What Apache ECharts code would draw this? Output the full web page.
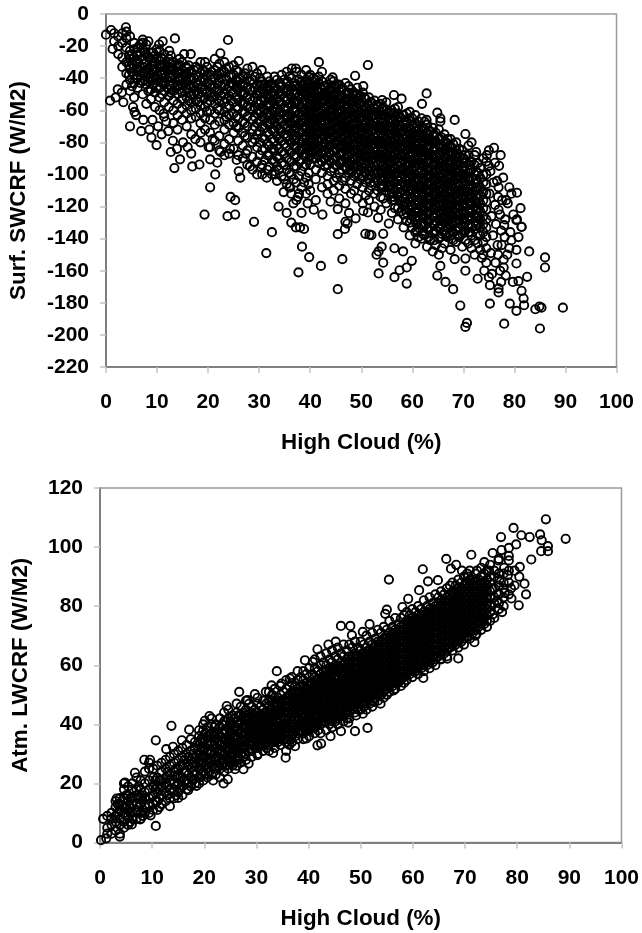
<!DOCTYPE html>
<html><head><meta charset="utf-8">
<script src="https://cdn.jsdelivr.net/npm/echarts@6/dist/echarts.min.js"></script>
<style>html,body{margin:0;padding:0;background:#fff}#c{width:642px;height:933px}</style></head>
<body><div id="c"></div>
<script>
const xTicks=[0,10,20,30,40,50,60,70,80,90,100];
const xName='High Cloud (%)';
const swName='Surf. SWCRF (W/M2)';
const lwName='Atm. LWCRF (W/M2)';
// each pair: [high cloud, surf SWCRF]
const swSparse=[[0,-12.9],[1,-10],[3.9,-8.3],[1.3,-21.8],[13.5,-15.2],[23.9,-16.2],[0.8,-54],[4.7,-70],[6.9,-73],[8.9,-77],[9.9,-81.7],[12.7,-86],[14.5,-90.6],[13.4,-96],[16.9,-95],[18.3,-93.8],[20.4,-90.6],[21.8,-92.7],[21.4,-100],[20.4,-108],[19.3,-125],[24.4,-114],[25.3,-116],[23.8,-126],[25.3,-125],[29,-129.5],[26,-98],[26.3,-102],[29.6,-100],[15.3,-25],[22.4,-24.5],[16.6,-25],[12.4,-23],[11.1,-17],[10.4,-19],[26,-29.3],[30.5,-35],[41.7,-30],[36.4,-34],[37.2,-34],
[32.5,-136],[31.4,-149],[37.7,-161],[38.4,-145],[39.8,-151.5],[42.1,-157],[38.8,-134],[38,-133],[37.2,-133],[36.3,-130],
[45.4,-171.5],[46.3,-152.8],[45.4,-137.2],[46.8,-134],[47.3,-130.6],[50.8,-137],[52,-137.8],[51.6,-137.5],[54.3,-137],[54,-145],[53.4,-148],[53,-150],[54.3,-155],[53.4,-161.7],[56.5,-146],[58.2,-148],[59.9,-153.8],[58.9,-158],[57.5,-159.7],[56.5,-164],[58.9,-168],[64.9,-163],[65.5,-157],[66.5,-167],[68,-171.5],[68.3,-152.8],[69.4,-181.7],[70.7,-192.5],[70.4,-195],[75.2,-180.5],[78,-193],[79.1,-180.5],[80.4,-185],[81.9,-181.5],[81.8,-177.3],[81.4,-172.5],[84.1,-184],[84.9,-182.3],[85.3,-183],[85,-196],[89.5,-183],[86,-151.7],[86,-158],[82.9,-148],[82.5,-163.8],[80.8,-166.5],[79.7,-167],[80.4,-147],[79,-146],[80.8,-139],[79.2,-136],[80.4,-155.5],[81.4,-132.7],[80.4,-128.5],[78,-131.6],[76.9,-173.5],[76.9,-171],[77.4,-167],[75.2,-169],[72.8,-165],[70.4,-160],[70.4,-152.4],
[51.3,-31.8],[48.8,-38.5],[44.4,-39.5],[56.4,-50.5],[57.9,-52.8],[62.8,-49.5],[64.9,-61.5],[65.5,-65],[65.5,-67],[68.3,-66],[62.8,-66],[61.9,-56],[54.1,-53.6],[50.4,-45],[70.4,-74.8],[71.6,-80],[72.5,-86],[75,-85],[76,-83.4],[77.3,-88],[77,-94.6],[76.2,-92.7],[75,-94.6],[79,-108],[80.5,-111.4],[78.4,-116],[76.8,-114],[80.5,-128],[81.4,-132.6],[44,-117],[45.4,-121.6],[47.6,-124],[48.9,-127.4],[42.4,-125],[50.4,-122.7],[51.3,-123.7],[53.3,-127],[55.4,-130.6],[46.9,-129.5],
[2.3,-47],[1.9,-52],[3.4,-55],[3.1,-49],[5.3,-58],[5.6,-61],[5.9,-63],[7.3,-66],[8.5,-72],[9.1,-66],[10.2,-70],[10.9,-75],[11.3,-62],[11.8,-67],[12.2,-73],[13.1,-79],[13.9,-84],[15.1,-80],[16,-83],[16.7,-87],[17.5,-78],[18.6,-74],[20.1,-83],[20.9,-78],[22.4,-86],[23.2,-88],[24.3,-84],[25.6,-91],[27.4,-87],[28.2,-95],[30.4,-96],[31.5,-102],[33.2,-100],[34.8,-111],[36.1,-108],[37.6,-114],[39.5,-118],[40.7,-122],[33.8,-120],[35.4,-124],[36.7,-118],
[74.1,-160],[73.6,-152],[75.6,-162],[77.9,-158],[78.6,-150],[79.4,-141],[77.5,-144],[79.8,-125],[78.7,-118],[81.2,-121],[77.2,-125],[78.2,-128],[76.6,-104],[79.4,-112],[77.8,-102],[74.6,-88],[73.9,-90]];
// each row: high cloud first, then the surf SWCRF values seen at that high cloud
const swLeft=[[1.6,-12,-17],[2.4,-14,-20,-25],[3.2,-12,-18,-27,-33],[4,-11,-15,-21,-30,-37,-44],[4.7,-14,-23,-28,-34,-41,-48],[5.5,-18,-22,-27,-32,-38,-43,-52],[6.2,-21,-26,-30,-35,-40,-46],[7.2,-16,-18,-22,-28,-33,-37,-42,-50],[7.9,-19,-25,-30,-35,-39,-44,-56],[8.8,-24,-28,-32,-37,-41,-47,-53],[9.6,-26,-30,-34,-39,-43,-49,-58],[10.5,-23,-29,-33,-36,-41,-46,-52,-60],[11.4,-25,-31,-35,-40,-44,-48,-55,-64],[12.3,-28,-33,-37,-42,-47,-51,-58],[13.2,-30,-34,-38,-43,-48,-54,-60,-68],[14,-33,-37,-41,-45,-50,-56,-63,-72],[14.9,-30,-35,-39,-44,-49,-53,-59,-66],[15.8,-34,-38,-42,-47,-52,-57,-62,-70],[16.7,-36,-40,-45,-50,-55,-60,-65,-75],[17.6,-33,-38,-43,-48,-54,-59,-64],[18.5,-30,-37,-42,-46,-52,-57,-62,-68,-80],[19.4,-30,-36,-41,-47,-52,-58,-65,-72],[20.4,-38,-44,-49,-54,-60,-66,-74,-83],[21.3,-28,-35,-40,-46,-51,-56,-62,-69,-79],[22.2,-31,-37,-42,-48,-54,-60,-67,-76,-85],[23.2,-30,-36,-44,-50,-55,-61,-66,-72,-81],[24.1,-33,-39,-45,-51,-57,-63,-69,-78,-87],[25,-32,-38,-44,-49,-55,-62,-68,-74,-84],[25.9,-36,-42,-47,-53,-59,-65,-71,-79,-88],[26.8,-39,-45,-50,-56,-61,-67,-74,-82,-90],[27.7,-34,-40,-46,-52,-58,-64,-70,-77,-85,-94],[28.7,-33,-41,-48,-54,-60,-66,-72,-80,-89,-97],[29.6,-37,-44,-50,-55,-62,-68,-75,-83,-92],[30.6,-42,-47,-52,-58,-64,-70,-77,-85,-94,-100],[31.6,-39,-46,-51,-57,-62,-68,-74,-81,-88,-97],[32.5,-44,-49,-54,-60,-66,-72,-78,-84,-91,-100],[33.5,-41,-47,-53,-59,-64,-70,-76,-82,-89,-95,-104],[34.4,-38,-45,-50,-56,-62,-67,-73,-79,-86,-93,-101],[35.4,-36,-43,-48,-54,-60,-65,-71,-77,-83,-90,-97,-106],[36.3,-40,-46,-52,-57,-63,-68,-74,-80,-86,-92,-100,-112],[37.3,-36,-44,-49,-55,-60,-66,-71,-77,-83,-89,-95,-105,-116],[38.3,-38,-42,-47,-52,-58,-63,-68,-74,-80,-85,-91,-98,-108,-124],[39.2,-35,-41,-46,-50,-55,-61,-66,-71,-76,-82,-88,-94,-102,-112]];
const swLeftFill=[[5.1,-25,-31,-36,-45],[6.7,-19,-24,-33,-38,-43],[8.3,-17,-27,-34,-42,-48],[9.9,-22,-28,-36,-41,-46],[11,-28,-33,-38,-43,-50],[12.7,-26,-31,-35,-40,-45,-49],[14.4,-28,-32,-36,-42,-47],[16.2,-32,-36,-40,-44,-49,-54],[18,-34,-39,-44,-50,-55],[19.8,-33,-38,-43,-49,-55,-61],[21.8,-33,-38,-43,-48,-53,-59],[23.6,-34,-41,-47,-53,-58,-64],[25.5,-35,-41,-46,-52,-58,-64,-70],[27.2,-37,-43,-49,-55,-61,-68,-76],[29.1,-39,-46,-52,-58,-64,-70,-78],[30.1,-40,-45,-50,-56,-61,-67,-73,-80,-88],[31.1,-44,-49,-54,-60,-65,-71,-78,-84,-91],[32,-42,-47,-52,-57,-63,-69,-75,-82,-88,-95],[33,-39,-45,-50,-56,-61,-67,-73,-79,-85,-92,-98],[33.9,-43,-49,-55,-61,-66,-72,-78,-84,-90,-97],[34.9,-41,-47,-52,-58,-63,-69,-75,-81,-87,-94,-103],[35.9,-39,-45,-50,-56,-62,-68,-73,-79,-85,-91,-99,-108],[36.8,-43,-48,-54,-59,-65,-70,-76,-82,-88,-95,-103],[37.8,-41,-46,-51,-56,-62,-68,-73,-79,-85,-92,-101,-112],[38.8,-44,-49,-54,-60,-65,-71,-77,-83,-88,-95,-105],[39.7,-39,-44,-49,-53,-58,-63,-68,-73,-79,-85,-91,-99,-106]];
const swCore=[[40,-38,-43,-47,-52,-56,-60,-65,-69,-74,-78,-83,-88,-94,-110],[41.1,-41,-45,-50,-54,-58,-63,-67,-71,-76,-81,-85,-90,-97,-103,-116],[42.3,-36,-42,-47,-51,-55,-60,-64,-69,-73,-78,-83,-87,-92,-99,-108],[43.4,-44,-49,-53,-57,-62,-66,-71,-75,-79,-84,-89,-94,-101,-106,-112],[44.6,-42,-46,-51,-55,-59,-64,-68,-72,-77,-81,-86,-91,-96,-104,-110],[45.7,-44,-48,-53,-57,-62,-66,-70,-74,-79,-83,-88,-93,-99,-107,-115],[46.9,-43,-50,-54,-59,-63,-68,-72,-76,-81,-85,-90,-95,-102,-109,-118],[48,-47,-52,-56,-61,-65,-70,-74,-78,-83,-87,-92,-97,-104,-112],[49.2,-46,-50,-54,-58,-63,-67,-72,-76,-80,-85,-89,-94,-99,-106,-115],[50.3,-49,-55,-60,-64,-69,-73,-78,-82,-87,-91,-96,-101,-108,-118],[51.5,-52,-57,-62,-66,-71,-75,-80,-84,-89,-93,-98,-103,-110,-116],[52.6,-54,-59,-63,-68,-72,-77,-81,-86,-90,-95,-100,-105,-112,-120],[53.8,-56,-61,-65,-70,-74,-79,-83,-88,-92,-97,-102,-107,-114,-122],[54.9,-55,-60,-64,-69,-73,-78,-82,-87,-91,-96,-100,-105,-110,-118],[56,-60,-66,-71,-75,-80,-84,-89,-93,-98,-102,-107,-112,-116,-124],[57.2,-58,-62,-67,-72,-76,-81,-85,-90,-95,-99,-104,-109,-114,-121,-128],[58.3,-63,-69,-73,-78,-82,-87,-91,-96,-100,-105,-110,-115,-119,-125,-133],[59.5,-61,-65,-71,-75,-80,-84,-89,-94,-98,-103,-107,-112,-117,-122,-130,-138],[60.6,-63,-68,-73,-77,-82,-86,-91,-95,-100,-105,-109,-114,-119,-124,-128,-136,-143],[61.8,-65,-70,-75,-79,-84,-88,-93,-98,-102,-107,-111,-116,-120,-125,-131,-140],[62.9,-69,-74,-78,-83,-87,-92,-96,-101,-106,-110,-115,-119,-124,-129,-134,-145],[64,-71,-76,-80,-85,-89,-94,-99,-103,-108,-112,-117,-121,-126,-131,-137,-148],[65.2,-72,-78,-82,-87,-92,-96,-101,-105,-110,-114,-119,-123,-128,-133,-140,-150],[66.3,-75,-80,-85,-89,-94,-98,-103,-107,-112,-116,-121,-126,-130,-135,-143],[67.5,-78,-83,-87,-91,-96,-101,-105,-110,-114,-119,-123,-128,-133,-138,-147],[68.6,-80,-85,-90,-94,-99,-103,-108,-112,-117,-121,-126,-130,-135,-142],[69.8,-85,-90,-96,-100,-105,-110,-114,-119,-123,-128,-132,-137,-145],[71,-82,-88,-94,-99,-104,-108,-113,-117,-122,-126,-131,-136,-143],[72.2,-88,-94,-100,-105,-110,-116,-120,-125,-129,-134,-141,-150],[73.3,-96,-102,-108,-113,-118,-123,-128,-133,-138,-147],[74.5,-92,-100,-106,-112,-117,-122,-128,-133,-139,-146,-155]];
const swCoreFill=[[40.6,-40,-45,-49,-54,-58,-62,-67,-71,-76,-80,-85,-90],[41.7,-39,-43,-48,-52,-57,-61,-65,-70,-74,-79,-83,-88,-93],[42.9,-45,-49,-53,-58,-62,-67,-71,-75,-81,-85,-90,-95],[44,-41,-47,-51,-55,-60,-64,-69,-73,-77,-82,-87,-92,-98],[45.2,-44,-49,-53,-57,-61,-66,-70,-75,-79,-84,-89,-94,-102],[46.3,-46,-51,-55,-60,-64,-68,-72,-77,-81,-86,-91,-97,-104],[47.5,-45,-49,-54,-58,-62,-66,-70,-75,-79,-83,-88,-93,-99],[48.6,-49,-54,-59,-63,-68,-72,-76,-81,-85,-90,-95,-101,-110],[49.8,-51,-56,-61,-65,-70,-74,-78,-83,-87,-92,-97,-103],[50.9,-53,-58,-62,-67,-71,-76,-80,-85,-89,-94,-99,-105,-113],[52,-55,-60,-64,-69,-73,-78,-82,-87,-91,-96,-101,-107],[53.2,-57,-62,-67,-71,-76,-80,-85,-89,-94,-99,-104,-110],[54.3,-58,-63,-67,-72,-76,-81,-85,-90,-94,-99,-103,-108,-115],[55.5,-61,-66,-70,-75,-79,-84,-88,-93,-97,-102,-107,-112],[56.6,-59,-64,-69,-73,-78,-82,-87,-91,-96,-100,-105,-110,-116,-121],[57.8,-65,-70,-74,-79,-84,-88,-93,-97,-102,-107,-111,-117,-123],[58.9,-62,-67,-71,-76,-80,-85,-90,-94,-99,-103,-108,-113,-118,-124,-129],[60,-65,-69,-74,-79,-83,-88,-92,-97,-101,-106,-110,-115,-120,-126,-133],[61.2,-67,-72,-76,-81,-85,-90,-94,-99,-103,-108,-112,-117,-122,-127,-133,-139],[62.4,-67,-72,-77,-81,-86,-90,-95,-99,-104,-108,-113,-117,-122,-127,-132,-138],[63.5,-73,-78,-82,-87,-91,-96,-101,-105,-110,-114,-119,-123,-128,-133,-141],[64.6,-74,-79,-83,-88,-92,-97,-101,-106,-110,-115,-119,-124,-129,-135,-144],[65.8,-77,-82,-86,-91,-95,-100,-104,-109,-113,-118,-122,-127,-131,-137,-146],[66.9,-78,-83,-87,-92,-96,-101,-106,-110,-115,-119,-124,-128,-133,-139],[68,-81,-86,-90,-95,-99,-104,-108,-113,-117,-122,-126,-131,-136,-141],[69.2,-84,-89,-93,-98,-102,-107,-111,-116,-120,-125,-129,-134,-139],[70.4,-88,-93,-98,-102,-107,-111,-116,-120,-125,-130,-135,-141],[71.6,-92,-97,-102,-107,-111,-115,-119,-124,-128,-133,-138,-146],[72.8,-93,-99,-105,-110,-115,-121,-126,-131,-137,-143],[73.9,-100,-105,-111,-116,-121,-126,-131,-136,-142,-150]];
const swDense=[[4.5,-26,-32,-38],[6,-24,-29,-34,-40],[7.6,-24,-31,-36,-41],[9.2,-24,-30,-35,-40,-44],[10.8,-27,-32,-37,-42],[12.4,-30,-35,-39,-44],[14.1,-31,-36,-40,-44],[15.7,-33,-37,-41,-46],[17.2,-35,-40,-45,-50],[18.9,-35,-40,-45,-49],[20.7,-36,-41,-46,-52],[22.6,-36,-40,-45,-51],[24.5,-38,-43,-48,-54],[26.3,-40,-44,-49,-55],[28.2,-42,-47,-53,-59],[30.3,-44,-49,-54,-60,-66],[32.2,-45,-50,-56,-62,-68],[34.1,-44,-50,-55,-61,-66,-72],[35.6,-42,-47,-53,-58,-64,-70,-76],[37,-45,-50,-55,-61,-67,-73,-79],[38.5,-44,-50,-55,-61,-66,-72,-78,-84],[39.9,-42,-46,-51,-56,-61,-67,-72,-77,-82],
[40.3,-47,-51,-56,-60,-65,-70,-75,-80,-86],[41.4,-47,-52,-56,-60,-65,-69,-74,-78,-83,-88],[42.6,-45,-50,-54,-59,-63,-67,-72,-76,-81,-86,-90],[43.7,-47,-51,-55,-60,-64,-68,-73,-77,-82,-86,-91],[44.9,-45,-50,-54,-58,-63,-67,-71,-76,-80,-84,-89,-94],[46,-47,-52,-56,-61,-65,-69,-73,-78,-82,-87,-92],[47.2,-49,-53,-57,-61,-66,-70,-74,-79,-83,-87,-92,-96],[48.3,-50,-54,-59,-63,-68,-72,-76,-81,-85,-90,-94,-98],[49.5,-52,-56,-60,-65,-69,-73,-78,-82,-86,-91,-95,-100],[50.6,-52,-57,-62,-66,-71,-75,-80,-84,-89,-93,-98],[51.8,-55,-59,-64,-68,-73,-77,-82,-86,-91,-95,-100,-105],[52.9,-57,-61,-65,-70,-74,-79,-83,-88,-92,-97,-102],[54,-59,-63,-68,-72,-77,-81,-86,-90,-95,-99,-104,-108],[55.2,-62,-67,-71,-76,-80,-85,-89,-94,-98,-103,-108],[56.3,-62,-67,-72,-77,-82,-86,-91,-95,-100,-104,-109,-114],[57.5,-64,-69,-74,-78,-83,-87,-92,-97,-101,-106,-111,-116],[58.6,-66,-71,-75,-80,-84,-89,-93,-98,-102,-107,-112,-117,-122],[59.8,-67,-72,-77,-82,-86,-91,-96,-100,-105,-109,-114,-119,-124,-128],[60.9,-70,-75,-79,-84,-88,-93,-97,-102,-107,-111,-116,-121,-126,-131,-135],[62.1,-72,-77,-81,-86,-90,-95,-100,-104,-109,-113,-118,-122,-127,-132,-137],[63.2,-73,-78,-83,-87,-92,-97,-101,-106,-110,-115,-119,-124,-129,-134,-139],[64.3,-75,-80,-85,-90,-94,-99,-104,-108,-113,-117,-122,-126,-131,-136,-141],[65.5,-78,-83,-88,-93,-97,-102,-106,-111,-115,-120,-124,-129,-134,-139],[66.6,-80,-85,-90,-95,-99,-104,-108,-113,-118,-122,-127,-132,-137],[67.7,-83,-88,-93,-97,-102,-106,-111,-115,-120,-125,-130,-135,-140],[68.9,-87,-92,-96,-101,-105,-110,-114,-119,-124,-128,-133,-138],[70.1,-90,-95,-100,-104,-109,-113,-118,-123,-127,-132,-136],[71.3,-94,-99,-104,-109,-113,-118,-122,-127,-131,-136],[72.5,-98,-103,-108,-113,-118,-122,-127,-132]];
const swRightScatter=[[75.3,-98],[75.9,-105],[75.1,-112],[76.2,-119],[75.5,-126],[76.4,-131],[75.8,-138],[76.7,-144],[75.4,-149],[76.3,-155],[77.2,-160],[75,-164],[76.9,-108],[77.6,-116],[76.9,-122],[77.4,-135],[78.1,-139],[76.8,-150],[77.9,-153],[78.3,-163]];
// each pair: [high cloud, atm LWCRF]
const lwSparse=[[0.2,0.8],[1.2,1.4],[0.6,8],[3.8,2],[10.7,5.6],[13.4,12.3],[10.7,34.6],[13.7,39.5],[17.1,38.2],[12.7,31.6],[8.5,28],[9.6,28],[15.7,34.6],[14,32.4],[6.7,23.6],[4.8,20.3],[3.2,14.9],[24.3,46.2],[21,42.8],[20.1,41.2],[27.5,24.8],[28.5,26.7],[23.7,20],[24.5,21.4],[21.7,21],[18.5,19.2],[16.9,17.7],[15,15.1],[6.1,6.1],[7.7,7.8],[9.7,9.2],[25.9,24.8],[30.2,29.6],[33.2,30.3],[35.6,28.7],[37.4,32.6],[41.7,32.9],[39.6,35.2],
[33.9,58],[26.7,51],[29.7,50.2],[32.9,53.2],[28.3,48.2],[39.3,61.7],[41.7,65.4],[40.8,61.1],[36.4,55.5],[34.8,53.8],[31.8,51],
[89.3,102.8],[85.5,109.4],[79.3,106.5],[76.9,103.4],[80.8,104],[82.4,103.4],[84.4,104.3],[84.7,102.3],[85.9,100.3],[84.6,98.6],[85.9,98.6],[82.7,95.8],[81.4,87.6],[81.7,84],[80.3,80.3],[80.5,93.3],[79.5,87],[78.4,95.5],[79.8,100.9],[78.4,99.7],[77,99],[75.3,98],[73.7,94.9],[71.2,97.4],[66.4,96],[61.9,92.5],[55.4,89],[67.3,92.7],[68.3,94],[61.2,85.4],[59.1,82.5],[62.9,88.4],[64.8,88.8],[55,78.8],[54.7,77.4],[46.2,73.3],[48,73.3],[48.3,70.2],[45.2,68],[43.8,67],[51.7,73.9],[50.4,71.3],[58,79.7],[71.8,67.8],[68.7,62.3],[66.6,62.2],[65.4,62.2],[62,55.7],[60.6,58.2],[56.3,51.5],[54.6,52],[57,54.3],[70.5,69.6],[72.2,70.7],[77.1,78],[75.3,77.2],[78.9,82.6],
[51.3,38.8],[48.9,37.7],[46.2,37.7],[44.2,36],[47.6,40.6],[50.4,43.6],[49.1,43],[53.8,47],[52.6,47.6],[45.3,41.9],[42.4,33.5],[79.5,92],[80.4,90],[78.2,90.5],[77.5,93],[76.4,95.5],[74.6,92],[73.5,90],[76.6,89],[75.2,86],[77.6,84.5],[76.2,82],[78.8,86],[72.3,92],[70.6,90],[69.4,92]];
// each row: high cloud first, then the atm LWCRF values seen at that high cloud
const lwLeft=[[1.4,3,5,9],[2.2,3,6,8,10],[3,4,7,9,12,14],[3.8,3,6,8,11,13,15],[4.6,5,7,10,12,15,18,20],[5.4,6,9,11,14,16,19],[6.2,8,10,13,15,18,20],[7,8,11,13,16,18,22],[7.8,8,10,13,15,18,21],[8.6,10,12,15,17,20,24],[9.4,10,13,15,18,21,25,27],[10.2,11,13,16,19,22,25],[11,11,14,17,19,22,26],[11.8,13,16,19,21,24,27],[12.6,14,17,20,22,25,28],[13.4,15,18,21,23,26,29],[14.2,15,18,20,24,27,30],[15,17,20,23,25,28,31],[15.8,16,19,22,26,29,32],[16.6,18,21,24,27,30,33],[17.4,19,22,25,28,31,35],[18.2,20,23,26,29,32,34],[19,20,22,25,27,30,33,36,38],[19.8,21,24,27,29,32,35,38,40],[20.6,22,25,28,31,33,36,39],[21.4,23,26,28,31,34,37,40,42],[22.2,23,25,29,32,35,37,40],[23,22,25,27,30,33,36,39,42],[23.8,24,27,30,33,35,38,41,44],[24.6,25,28,31,34,36,39,42,45],[25.4,26,29,32,34,37,40,43],[26.2,26,28,31,33,36,39,41,44,47],[27,27,30,32,35,37,40,43,46]];
const lwLeftFill=[[3.4,10,13],[5,9,12,16],[7.4,12,15,19],[10.6,14,18,21],[13,16,19,24],[15.4,18,22,26],[16.2,21,24,28],[17.8,21,24,27,30],[19.4,23,26,29,32,35],[21,24,27,30,33,36],[22.6,26,29,31,34,37],[24.2,26,29,32,35,38,41],[25,28,30,33,36,39,41],[25.8,27,30,33,36,38,42],[26.6,28,31,34,37,40,43],[27.5,29,32,34,36,39,42,44]];
const lwCore=[[28,28,30,33,35,37,39,41,43,45,48],[29.1,29,31,34,36,38,40,42,44,46],[30.2,30,32,34,36,38,40,42,44,47,49],[31.3,31,33,35,37,39,41,43,45,48],[32.4,31,33,36,38,40,42,44,46,48,51],[33.5,32,34,36,38,40,43,45,47,49,52],[34.6,33,35,37,39,42,44,46,48,50,53],[35.7,31,34,36,38,40,43,45,47,49,52,55],[36.8,34,36,39,41,43,45,47,49,51,54,56],[37.9,35,37,39,41,44,46,48,50,52,55,58],[39,35,37,40,42,44,47,49,51,53,55,58],[40.1,36,38,40,43,45,47,49,51,53,56,59],[41.2,37,39,41,43,46,48,50,52,54,56,59,62],[42.3,37,40,42,44,46,49,51,53,55,57,60,63],[43.4,38,41,43,45,47,49,52,54,56,58,60,64],[44.5,39,41,44,46,48,50,52,54,57,59,61,65],[45.6,40,42,44,47,49,51,53,55,58,60,62,66],[46.7,41,43,45,47,50,52,54,56,58,60,63,67],[47.8,42,44,46,48,50,53,55,57,59,61,63,67],[48.9,44,46,48,50,52,54,56,58,60,62,64,68],[50,45,47,49,51,53,55,57,59,61,63,65,68],[51.1,45,47,50,52,54,56,58,60,62,64,66,70],[52.2,46,48,50,53,55,57,59,61,63,65,67,71],[53.3,48,50,52,54,56,58,60,62,64,66,68,72],[54.4,49,51,53,55,57,59,61,63,65,67,69,73],[55.5,51,53,55,57,59,61,63,65,67,69,71,75],[56.6,52,54,56,58,60,62,64,66,68,70,72,76],[57.7,53,55,57,59,61,63,65,67,69,71,73,76],[58.8,55,57,59,61,63,65,67,69,71,73,75,78],[59.9,56,58,60,62,64,66,68,70,72,74,76,79],[61,57,59,61,63,65,67,69,71,73,75,77,80],[62.1,58,60,62,64,66,68,70,72,74,76,78,82],[63.2,59,61,63,65,67,69,71,73,75,77,79,83],[64.3,60,62,64,66,68,70,72,74,76,78,80,84],[65.4,62,64,66,68,70,72,74,76,78,80,82,85],[66.5,63,65,67,69,71,73,75,77,79,81,83,86],[67.6,65,67,69,71,73,75,77,79,81,83,85,88],[68.7,66,68,70,72,74,76,78,80,82,84,86,89],[69.8,67,69,71,73,75,77,79,81,83,85,87,90],[70.9,69,71,73,75,77,79,81,83,85,87,89,92],[72,70,72,74,76,78,80,82,84,86,88,91],[73.1,72,74,76,78,80,82,84,86,88,90,93],[74.2,73,75,77,79,81,83,85,87,89,92]];
const lwCoreFill=[[28.6,31,34,36,38,40,42,44,47],[29.7,32,35,37,39,41,43,45],[30.8,33,35,37,39,41,43,46],[31.9,32,34,36,38,40,42,44,47],[33,35,37,39,41,43,45,48,50],[34.1,34,36,38,41,43,45,47,49],[35.2,35,37,40,42,44,46,48,51],[36.3,33,37,40,42,44,46,48,50,53],[37.4,36,38,40,42,45,47,49,51,53],[38.5,38,40,43,45,47,49,51,53,56],[39.6,38,41,43,45,48,50,52,54,57],[40.7,39,41,44,46,48,50,52,54,57],[41.8,38,40,42,45,47,49,51,53,55,58],[42.9,41,43,45,48,50,52,54,56,58,61],[44,40,42,44,46,48,51,53,55,57,59,62],[45.1,41,43,45,48,50,52,54,56,58,60,63],[46.2,43,45,46,48,50,52,54,57,59,61,64],[47.3,42,44,46,49,51,53,55,57,59,62,65],[48.4,45,47,49,51,53,55,57,59,61,63,66],[49.5,45,47,49,51,53,55,57,59,61,63,66],[50.6,46,48,50,52,54,56,58,60,62,64,67],[51.7,47,49,51,53,55,57,59,61,63,65,68],[52.8,49,51,53,55,57,59,61,63,65,67,69],[53.9,50,52,54,56,58,60,62,64,66,68,71],[55,50,52,54,56,58,60,62,64,66,68,70,72],[56.1,53,55,57,59,61,63,65,67,69,71,73],[57.2,54,56,58,60,62,64,66,68,70,72,74],[58.3,54,56,58,60,62,64,66,68,70,72,74,77],[59.4,57,59,61,63,65,67,69,71,73,75,77],[60.5,58,60,62,64,66,68,70,72,74,76,78],[61.6,59,61,63,65,67,69,71,73,75,77,79],[62.7,60,62,64,66,68,70,72,74,76,78,80],[63.8,61,63,65,67,69,71,73,75,77,79,81],[64.9,63,65,67,69,71,73,75,77,79,81,83],[66,64,66,68,70,72,74,76,78,80,82,84],[67.1,66,68,70,72,74,76,78,80,82,84,87],[68.2,67,69,71,73,75,77,79,81,83,85,87],[69.3,68,70,72,74,76,78,80,82,84,86,88],[70.4,70,72,74,76,78,80,82,84,86,88,91],[71.5,71,73,75,77,79,81,83,85,87,89],[72.6,73,75,77,79,81,83,85,87,89],[73.7,74,76,78,80,82,84,86,88,91],[74.8,75,78,80,83,85,88,90,94],[75.6,76,81,83,86,90,92],[76.5,79,81,84,87,91,96],[77.4,80,83,86,88,91],[78.4,84,88,92,97]];
const lwDense=[[5.8,7,10,12,15],[8.2,9,11,14,16],[11.4,12,15,18,21],[14.6,16,19,22,25],[17,20,23,26,29],[19.2,22,25,28,31,34],[20.2,23,26,29,32,35,37],[21.9,25,28,30,33,36,39],[23.4,26,28,31,34,37,40],[24.9,27,29,32,35,38,40],[26.4,29,32,35,38,41],[27.8,30,32,34,37,40,42],[29.4,33,35,37,39,41,43],[30.5,33,35,37,39,41,43],[31.6,34,36,38,40,42,44],[32.7,35,37,39,41,43,45],[33.8,35,37,39,41,44,46],[34.9,36,38,40,43,45,47],[36,35,37,39,41,44,46,48],[37.1,37,40,42,44,46,48,50],[38.2,38,40,42,45,47,49,51],[39.3,39,41,43,46,48,50,52],[40.4,39,42,44,46,48,50,52,54],[41.5,40,42,45,47,49,51,53,55],[42.6,41,43,45,48,50,52,54,56],[43.7,42,44,46,48,51,53,55,57],[44.8,43,45,47,49,51,53,56,58],[45.9,43,46,48,50,52,54,56,59],[47,44,46,49,51,53,55,57,59,61],[48.1,47,49,51,53,55,57,60,62],[49.2,47,49,51,53,55,57,59,61,63],[50.3,48,50,52,54,56,58,60,62,64],[51.4,49,51,53,55,57,59,61,63,65],[52.5,50,52,54,56,58,60,62,64,66],[53.6,51,53,55,57,59,61,63,65,67],[54.7,52,54,56,58,60,62,64,66,68],[55.8,54,56,58,60,62,64,66,68,70],[56.9,55,57,59,61,63,65,67,69,71],[58,56,58,60,62,64,66,68,70,72],[59.1,58,60,62,64,66,68,70,72,74],[60.2,59,61,63,65,67,69,71,73,75],[61.3,60,62,64,66,68,70,72,74,76],[62.4,61,63,65,67,69,71,73,75,77],[63.5,62,64,66,68,70,72,74,76,78],[64.6,63,65,67,69,71,73,75,77,79],[65.7,65,67,69,71,73,75,77,79,81],[66.8,66,68,70,72,74,76,78,80,82],[67.9,68,70,72,74,76,78,80,82,84],[69,69,71,73,75,77,79,81,83,85],[70.1,71,73,75,77,79,81,83,85,87],[71.2,72,74,76,78,80,82,84,86,88],[72.3,75,77,79,81,83,85,87]];

const fromRows=rows=>rows.flatMap(r=>r.slice(1).map(v=>[r[0],v]));
const swData=swSparse.concat(fromRows(swLeft),fromRows(swLeftFill),fromRows(swCore),fromRows(swCoreFill),fromRows(swDense),swRightScatter);
const lwData=lwSparse.concat(fromRows(lwLeft),fromRows(lwLeftFill),fromRows(lwCore),fromRows(lwCoreFill),fromRows(lwDense));
const font={fontFamily:'"Liberation Sans",Arial,sans-serif',fontWeight:'bold',fontSize:21,color:'#000'};
const nameFont={...font,fontSize:22.4};
const axisLine={show:true,onZero:false,lineStyle:{color:'#7f7f7f',width:2}};
const tick={show:true,length:6,lineStyle:{color:'#c4c4c4',width:1.5}};
function xAxis(i,gap){return {type:'value',gridIndex:i,min:0,max:100,interval:10,name:xName,nameLocation:'middle',nameGap:gap,nameTextStyle:nameFont,axisLine,axisTick:tick,splitLine:{show:false},axisLabel:{...font,margin:25,showMaxLabel:true,showMinLabel:true}};}
function yAxis(i,min,max,iv,name,gap){return {type:'value',gridIndex:i,min,max,interval:iv,name,nameLocation:'middle',nameGap:gap,nameRotate:90,nameTextStyle:nameFont,axisLine,axisTick:tick,splitLine:{show:false},axisLabel:{...font,margin:17}};}
function series(i,data){return {type:'scatter',xAxisIndex:i,yAxisIndex:i,data,symbol:'circle',symbolSize:8.3,clip:false,silent:true,progressive:0,large:false,itemStyle:{color:'rgba(0,0,0,0)',borderColor:'#000',borderWidth:1.9,opacity:1}};}
const chart=echarts.init(document.getElementById('c'),null,{renderer:'canvas'});
chart.setOption({backgroundColor:'#fff',animation:false,
grid:[{left:103.5,top:14,width:513,height:353,show:true,borderColor:'#9a9a9a',borderWidth:1.5,backgroundColor:'#fff'},
{left:100,top:488,width:521.5,height:354.5,show:true,borderColor:'#9a9a9a',borderWidth:1.5,backgroundColor:'#fff'}],
xAxis:[xAxis(0,65),xAxis(1,65)],
yAxis:[yAxis(0,-220,0,20,swName,76),yAxis(1,0,120,20,lwName,68)],
series:[series(0,swData),series(1,lwData)]});
</script></body></html>
